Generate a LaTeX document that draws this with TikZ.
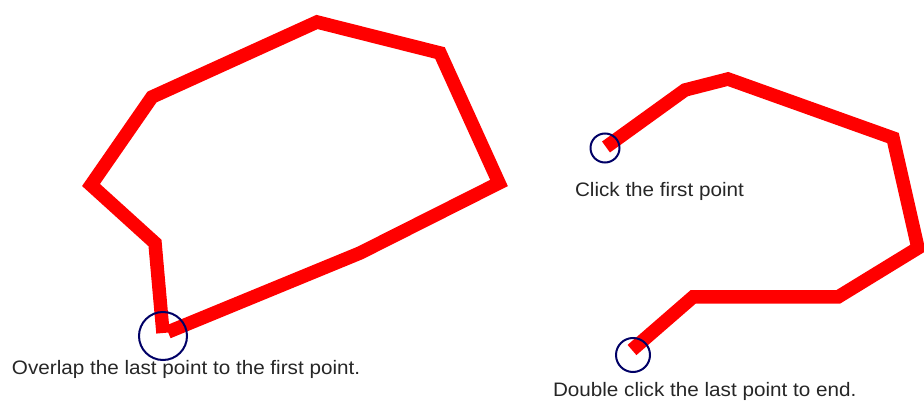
\documentclass[tikz,border=0pt]{standalone}
\usepackage{fontspec}
\setmainfont{Liberation Sans}
\begin{document}
\begin{tikzpicture}[x=1pt,y=-1pt,
  redline/.style={draw=red,line width=13.5pt,line join=miter,line cap=butt},
  ring/.style={draw=blue!40!black,line width=2pt},
  caption/.style={anchor=base west,inner sep=0pt,outer sep=0pt,font=\fontsize{19.5}{22}\selectfont,text=black!85}]
\useasboundingbox (0,0) rectangle (924,403);
% left polygon points
\coordinate (a0) at (163,333);
\coordinate (a1) at (155,243);
\coordinate (a2) at (91,185);
\coordinate (a3) at (152,97);
\coordinate (a4) at (317,22);
\coordinate (a5) at (440,53);
\coordinate (a6) at (499,183);
\coordinate (a7) at (360,253);
\coordinate (a8) at (168,332);
\draw[redline] (a0) -- (a1) -- (a2) -- (a3) -- (a4) -- (a5) -- (a6) -- (a7) -- (a8);
\node[ring,circle,minimum size=48pt,inner sep=0pt] (c1) at (163,336) {};
\node[caption] (t1) at (12,374) {\scalebox{1.06}[1]{Overlap the last point to the first point.}};
% right polyline
\coordinate (b0) at (606,147);
\coordinate (b1) at (685,90);
\coordinate (b2) at (728,79);
\coordinate (b3) at (893,138);
\coordinate (b4) at (918,248);
\coordinate (b5) at (838,297);
\coordinate (b6) at (693,297);
\coordinate (b7) at (632,350);
\draw[redline] (b0) -- (b1) -- (b2) -- (b3) -- (b4) -- (b5) -- (b6) -- (b7);
\node[ring,circle,minimum size=29pt,inner sep=0pt] (c2) at (605,148) {};
\node[ring,circle,minimum size=34pt,inner sep=0pt] (c3) at (633,355) {};
\node[caption] (t2) at (575,197) {\scalebox{1.06}[1]{Click the first point}};
\node[caption] (t3) at (553,396) {\scalebox{1.06}[1]{Double click the last point to end.}};
\end{tikzpicture}
\end{document}
